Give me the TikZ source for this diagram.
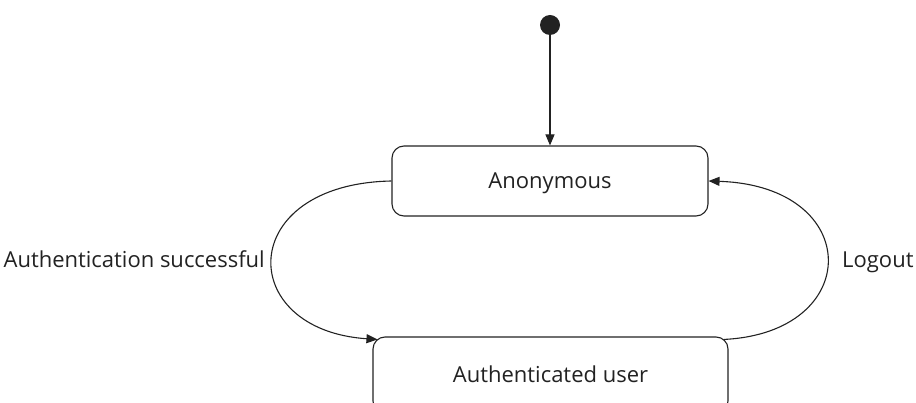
\documentclass[tikz,border=0pt]{standalone}
\usepackage{fontspec}
\setmainfont{Open Sans}
\usetikzlibrary{arrows.meta,calc}
\definecolor{ink}{HTML}{222222}
\begin{document}
\begin{tikzpicture}[x=1pt,y=-1pt,
  state/.style={draw=ink,line width=1.1pt,rounded corners=12pt,align=center,inner sep=0pt,text=ink,text height=16pt,text depth=0pt},
  conn/.style={draw=ink,line width=1.1pt,-{Triangle[length=11pt,width=9pt]}},
  lbl/.style={text=ink,inner sep=0pt},
  font=\fontsize{22}{26}\selectfont]
\useasboundingbox (0,0) rectangle (916,403);
\clip (0,0) rectangle (916,403);
\node[circle,fill=ink,minimum size=20pt,inner sep=0pt] (init) at (550,25) {};
\node[state,minimum width=316pt,minimum height=70pt] (anon) at (550,181) {Anonymous};
\node[state,minimum width=355pt,minimum height=76pt] (auth) at (550.5,375) {Authenticated user};
\coordinate (authin) at ($(auth.north west)+(5,3)$);
\coordinate (authout) at ($(auth.north east)+(-5,3)$);
\draw[conn] (init) -- (anon.north);
\draw[conn] (anon.west) .. controls (235,184) and (235,330) .. (authin);
\draw[conn] (authout) .. controls (864,333) and (864,186) .. (anon.east);
\node[lbl,anchor=base east] (l1) at (265,268) {Authentication successful};
\node[lbl,anchor=base west] (l2) at (842,268) {Logout};
\end{tikzpicture}
\end{document}
